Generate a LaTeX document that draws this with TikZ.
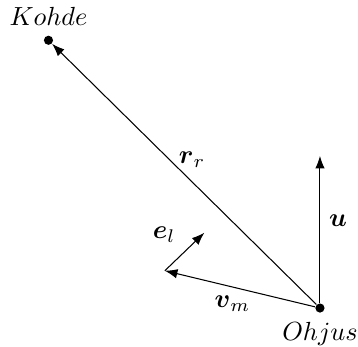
\documentclass[tikz,border=0pt]{standalone}
\usepackage{amsmath,amssymb}
\usetikzlibrary{arrows.meta}

\begin{document}
\begin{tikzpicture}[>={Latex},
  dot/.style={circle,fill,inner sep=0pt,minimum size=3.5pt}]
  \useasboundingbox (-4.29,-0.52) rectangle (0.51,4.13);
  \node[dot,label=below:$Ohjus$] (ohjus) at (0,0) {};
  \node[dot,label=above:$Kohde$] (kohde) at (-3.64,3.59) {};
  \coordinate (u) at (0,2.04);
  \coordinate (vm) at (-2.08,0.50);
  \coordinate (el) at (-1.55,1.01);
  \draw[->] (ohjus) -- (kohde) node[pos=0.47,above=2pt] {$\boldsymbol{r}_r$};
  \draw[->] (ohjus) -- (u) node[pos=0.56,right] {$\boldsymbol{u}$};
  \draw[->] (ohjus) -- (vm) node[pos=0.55,below] {$\boldsymbol{v}_m$};
  \draw[->] (vm) -- (el) node[midway,above left] {$\boldsymbol{e}_l$};
\end{tikzpicture}
\end{document}
